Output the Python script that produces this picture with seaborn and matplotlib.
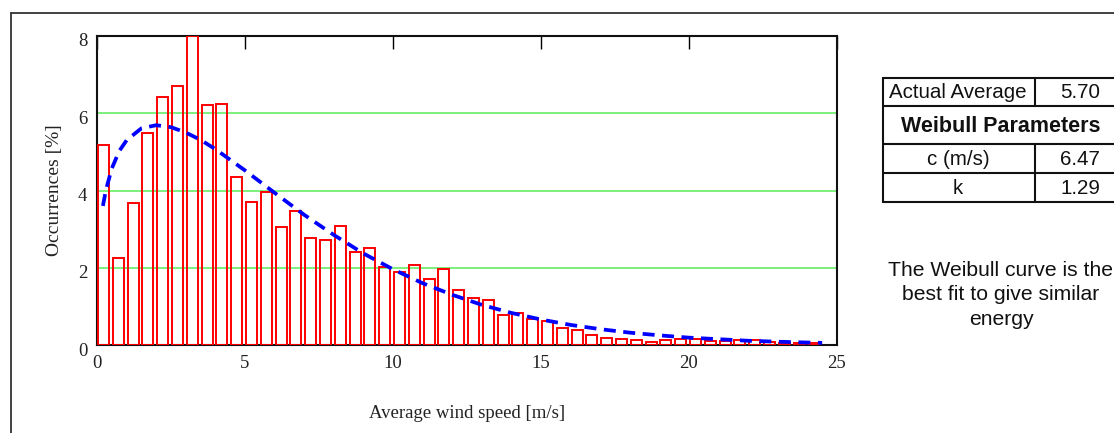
#!/usr/bin/env python3
# -*- coding: utf-8 -*-
# wind speed histogram with fitted weibull curve

import numpy as np
import matplotlib
matplotlib.use('Agg')
import matplotlib.pyplot as plt
from matplotlib.lines import Line2D
from matplotlib.transforms import ScaledTranslation
import seaborn as sns

# histogram bins: 0.5 m/s wide, value = left edge of bin
bin_start = [0.0, 0.5, 1.0, 1.5, 2.0, 2.5, 3.0, 3.5, 4.0, 4.5,
             5.0, 5.5, 6.0, 6.5, 7.0, 7.5, 8.0, 8.5, 9.0, 9.5,
             10.0, 10.5, 11.0, 11.5, 12.0, 12.5, 13.0, 13.5, 14.0, 14.5,
             15.0, 15.5, 16.0, 16.5, 17.0, 17.5, 18.0, 18.5, 19.0, 19.5,
             20.0, 20.5, 21.0, 21.5, 22.0, 22.5, 23.0, 23.5, 24.0]
occurrence = [5.17, 2.25, 3.68, 5.50, 6.42, 6.71, 8.00, 6.21, 6.25, 4.35,
              3.71, 3.96, 3.05, 3.46, 2.76, 2.72, 3.09, 2.42, 2.50, 2.03,
              1.88, 2.08, 1.71, 1.97, 1.42, 1.21, 1.17, 0.77, 0.83, 0.68,
              0.62, 0.45, 0.38, 0.26, 0.19, 0.16, 0.13, 0.09, 0.13, 0.16,
              0.15, 0.11, 0.11, 0.13, 0.13, 0.09, 0.06, 0.06, 0.04]

# weibull curve
curve_speed = [0.2, 0.3, 0.5, 0.75, 1.0, 1.5, 2.0, 2.5, 3.0, 3.5, 4.0, 5.0,
               6.0, 7.0, 8.0, 9.0, 10.0, 11.0, 12.0, 13.0, 14.0, 15.0, 16.0,
               17.0, 18.0, 19.0, 20.0, 21.0, 22.0, 23.0, 24.0, 24.5]
curve_pct = [3.60, 4.01, 4.57, 5.02, 5.30, 5.61, 5.69, 5.64, 5.50, 5.31, 5.07,
             4.52, 3.94, 3.37, 2.85, 2.37, 1.96, 1.60, 1.30, 1.04, 0.83, 0.66,
             0.52, 0.41, 0.32, 0.25, 0.19, 0.15, 0.11, 0.085, 0.064, 0.056]

x_ticks = [0, 5, 10, 15, 20, 25]
y_ticks = [0, 2, 4, 6, 8]

table_labels = ['Actual Average', 'c (m/s)', 'k']
table_values = ['5.70', '6.47', '1.29']
table_header = 'Weibull Parameters'
note = 'The Weibull curve is the\nbest fit to give similar\nenergy'

W, H = 1114, 433
SERIF = ['Liberation Serif', 'DejaVu Serif']
SANS = ['Liberation Sans', 'DejaVu Sans']


def px(x, y):
    return x / W, 1 - y / H


def main():
    sns.set_style('white')
    plt.rcParams['font.family'] = SERIF

    fig = plt.figure(figsize=(W / 100, H / 100), dpi=100)
    fig.patch.set_facecolor('white')
    ax = fig.add_axes([97 / W, 1 - 345 / H, (837 - 97) / W, (345 - 36) / H])

    centers = np.array(bin_start) + 0.22
    sns.barplot(x=centers, y=occurrence, native_scale=True, fill=False,
                color='#ff0000', linewidth=1.4, errorbar=None, width=0.75,
                ax=ax, zorder=3)
    sns.lineplot(x=curve_speed, y=curve_pct, color='#0000ff', linewidth=2.7,
                 linestyle=(0, (3.2, 2)), ax=ax, zorder=4)

    ax.set_xlim(0, 25)
    ax.set_ylim(0, 8)
    ax.set_xticks(x_ticks)
    ax.set_xticklabels([str(t) for t in x_ticks])
    ax.set_yticks(y_ticks)
    ax.set_yticklabels([str(t) for t in y_ticks])
    ax.tick_params(axis='x', direction='in', length=9, width=1, top=True,
                   labelsize=13.5, pad=7, colors='black', labelcolor='#222222')
    ax.tick_params(axis='y', length=0, labelsize=13.5, pad=7,
                   labelcolor='#222222')
    off = ScaledTranslation(0, -4 / 100, fig.dpi_scale_trans)
    for lab in ax.get_yticklabels():
        lab.set_transform(lab.get_transform() + off)

    ax.yaxis.grid(True, color='#66ee66', linewidth=1.2, zorder=1)
    ax.xaxis.grid(False)
    ax.set_axisbelow(True)
    for s in ax.spines.values():
        s.set_visible(True)
        s.set_color('#111111')
        s.set_linewidth(1.5)

    ax.set_xlabel('Average wind speed [m/s]', fontsize=13.5, labelpad=24,
                  color='#222222')
    ax.set_ylabel('Occurrences [%]', fontsize=14, labelpad=11,
                  color='#222222')

    # outer frame of the page
    fig.add_artist(Line2D([11 / W, 11 / W], [0, 1 - 13 / H],
                          transform=fig.transFigure, color='#333333', lw=1.3))
    fig.add_artist(Line2D([11 / W, 1], [1 - 13 / H, 1 - 13 / H],
                          transform=fig.transFigure, color='#333333', lw=1.3))

    # parameter table
    left, mid, right = 883, 1035, 1125
    rows = [78, 106, 144, 173, 202]
    for y in rows:
        fig.add_artist(Line2D(*zip(px(left, y), px(right, y)),
                              transform=fig.transFigure, color='#111111', lw=1.5))
    fig.add_artist(Line2D(*zip(px(left, rows[0]), px(left, rows[-1])),
                          transform=fig.transFigure, color='#111111', lw=1.5))
    for y0, y1 in [(rows[0], rows[1]), (rows[2], rows[4])]:
        fig.add_artist(Line2D(*zip(px(mid, y0), px(mid, y1)),
                              transform=fig.transFigure, color='#111111', lw=1.5))

    row_mid = [(rows[0] + rows[1]) / 2, (rows[2] + rows[3]) / 2,
               (rows[3] + rows[4]) / 2]
    for lab, val, ym in zip(table_labels, table_values, row_mid):
        fig.text(*px(958, ym + 1), lab, family=SANS, fontsize=14.8,
                 ha='center', va='center', color='#111111')
        fig.text(*px(1080, ym + 1), val, family=SANS, fontsize=14.8,
                 ha='center', va='center', color='#111111')
    fig.text(*px(1001, (rows[1] + rows[2]) / 2 + 1), table_header, family=SANS,
             fontsize=15.5, fontweight='bold', ha='center', va='center',
             color='#111111')

    fig.text(*px(1001, 295), note, family=SANS, fontsize=15.2, ha='center',
             va='center', linespacing=1.34, color='#111111')

    fig.savefig('out.png', dpi=100, facecolor='white')


if __name__ == '__main__':
    main()
